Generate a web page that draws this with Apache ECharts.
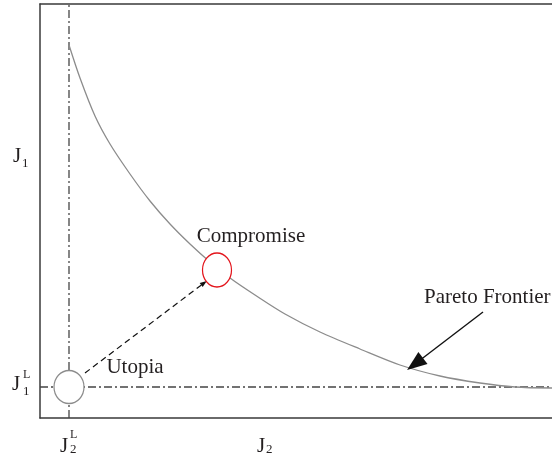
<!DOCTYPE html>
<html>
<head>
<meta charset="utf-8">
<script src="https://cdn.jsdelivr.net/npm/echarts@6/dist/echarts.min.js"></script>
<style>html,body{margin:0;padding:0;background:#fff}#c{width:552px;height:455px}</style>
</head>
<body>
<div id="c"></div>
<script>
// Pareto frontier (J2 on x, J1 on y), in chart units
const frontierJ2 = [29, 40, 55, 70, 90, 110, 130, 150, 170, 190, 215, 245, 280, 320, 360, 400, 440, 475, 512];
const frontierJ1 = [373, 340, 302, 274, 244, 217, 194, 174, 156, 140, 123, 104, 86, 69, 53, 42, 35, 31, 30];
// Lower bounds (utopia coordinates)
const utopiaPoint = [29, 31];
const compromisePoint = [177, 148];
// Connector from utopia to compromise
const connectorStart = [45, 45];
const connectorEnd = [164, 135];
// Pointer arrow for "Pareto Frontier"
const pointerStart = [443, 106];
const pointerEnd = [375, 54];
// Annotation labels
const annotationNames = ['Compromise', 'Utopia', 'Pareto Frontier'];
const annotationPos = [[211, 182], [95, 51], [384, 121]];
const annotationAlign = ['center', 'center', 'left'];
// Axis ranges
const xRange = [0, 512];
const yRange = [0, 414];

const serif = '"Liberation Serif", "DejaVu Serif", serif';
const txt = '#231f20';
const ellipsePath = 'path://M0,-1A1,1,0,1,1,0,1A1,1,0,1,1,0,-1Z';
const dashDot = [8, 3, 2, 3];
const frame = { show: true, onZero: false, lineStyle: { color: '#3a3a3a', width: 1.5 } };
const hidden = { axisTick: { show: false }, axisLabel: { show: false }, splitLine: { show: false } };

const chart = echarts.init(document.getElementById('c'));
chart.setOption({
  animation: false,
  grid: { left: 40, top: 4, right: 0, bottom: 37, show: false },
  xAxis: [
    Object.assign({ type: 'value', position: 'bottom', min: xRange[0], max: xRange[1], axisLine: frame }, hidden),
    Object.assign({ type: 'value', position: 'top', min: xRange[0], max: xRange[1], axisLine: frame }, hidden)
  ],
  yAxis: Object.assign({ type: 'value', position: 'left', min: yRange[0], max: yRange[1], axisLine: frame }, hidden),
  series: [
    { type: 'line', silent: true, symbol: 'none', z: 1,
      data: [[utopiaPoint[0], yRange[0]], [utopiaPoint[0], yRange[1]]],
      lineStyle: { color: '#444', width: 1.3, type: dashDot } },
    { type: 'line', silent: true, symbol: 'none', z: 1,
      data: [[xRange[0], utopiaPoint[1]], [xRange[1], utopiaPoint[1]]],
      lineStyle: { color: '#444', width: 1.3, type: dashDot } },
    { type: 'line', silent: true, symbol: 'none', smooth: 0.3, z: 2,
      data: frontierJ2.map((x, i) => [x, frontierJ1[i]]),
      lineStyle: { color: '#8c8c8c', width: 1.3 } },
    { type: 'line', silent: true, symbol: 'none', data: [], z: 3,
      markLine: { silent: true, animation: false, label: { show: false },
        data: [
          [{ coord: connectorStart, symbol: 'none' }, { coord: connectorEnd, symbol: 'triangle', symbolSize: [5, 7] }],
        ],
        lineStyle: { color: '#111', width: 1.2, type: [6, 4] } } },
    { type: 'line', silent: true, symbol: 'none', data: [], z: 3,
      markLine: { silent: true, animation: false, label: { show: false },
        data: [
          [{ coord: pointerStart, symbol: 'none' }, { coord: pointerEnd, symbol: 'triangle', symbolSize: [15, 20] }],
        ],
        lineStyle: { color: '#111', width: 1.4, type: 'solid' } } },
    { type: 'scatter', silent: true, symbol: ellipsePath, z: 5,
      data: [
        { value: utopiaPoint, symbolSize: [30, 33], itemStyle: { color: '#fff', opacity: 1, borderColor: '#8c8c8c', borderWidth: 1.3 } },
        { value: compromisePoint, symbolSize: [29, 34], itemStyle: { color: '#fff', opacity: 1, borderColor: '#e3151c', borderWidth: 1.3 } }
      ] },
    { type: 'scatter', silent: true, symbolSize: 1, z: 6,
      itemStyle: { color: 'rgba(0,0,0,0)', opacity: 1 },
      data: annotationNames.map((n, i) => ({ name: n, value: annotationPos[i],
        label: { show: true, position: 'inside', formatter: '{b}', align: annotationAlign[i], verticalAlign: 'middle',
          color: txt, fontFamily: serif, fontSize: 21 } })) }
  ],
  graphic: [
    { type: 'text', left: 13, top: 146, style: { text: 'J', font: '21px ' + serif, fill: txt } },
    { type: 'text', left: 22, top: 157, style: { text: '1', font: '13px ' + serif, fill: txt } },
    { type: 'text', left: 12, top: 374, style: { text: 'J', font: '21px ' + serif, fill: txt } },
    { type: 'text', left: 23, top: 369, style: { text: 'L', font: '12px ' + serif, fill: txt } },
    { type: 'text', left: 23, top: 385, style: { text: '1', font: '13px ' + serif, fill: txt } },
    { type: 'text', left: 60, top: 436, style: { text: 'J', font: '21px ' + serif, fill: txt } },
    { type: 'text', left: 70, top: 429, style: { text: 'L', font: '12px ' + serif, fill: txt } },
    { type: 'text', left: 70, top: 443, style: { text: '2', font: '13px ' + serif, fill: txt } },
    { type: 'text', left: 257, top: 436, style: { text: 'J', font: '21px ' + serif, fill: txt } },
    { type: 'text', left: 266, top: 443, style: { text: '2', font: '13px ' + serif, fill: txt } }
  ]
});
</script>
</body>
</html>
